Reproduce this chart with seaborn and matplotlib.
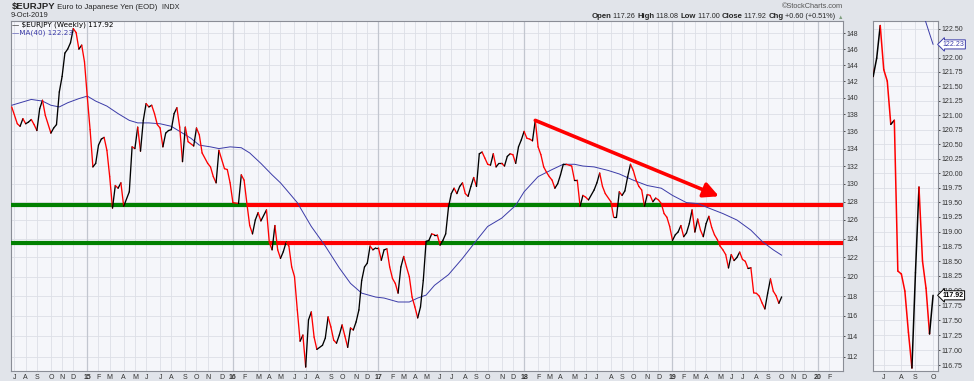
import numpy as np
import pandas as pd
import matplotlib
matplotlib.use('Agg')
import matplotlib.pyplot as plt
import matplotlib.dates as mdates
from matplotlib.collections import LineCollection
import seaborn as sns

# weekly bars, each dated by the Monday of its week
first_bar = pd.Timestamp('2014-06-30')

weeks = [0, 2, 3, 4, 5, 6, 7, 8, 9, 10, 11, 12, 14, 15, 16, 17, 18, 19, 20, 21,
         22, 23, 24, 25, 26, 27, 28, 29, 30, 31, 32, 33, 34, 35, 36, 37, 38, 39, 40, 42,
         43, 44, 45, 46, 47, 48, 49, 50, 51, 52, 53, 54, 55, 56, 57, 58, 59, 60, 61, 62,
         63, 65, 66, 67, 68, 70, 71, 72, 73, 74, 76, 77, 78, 79, 81, 82, 83, 84, 85, 86,
         87, 88, 89, 91, 92, 93, 94, 95, 96, 97, 98, 99, 100, 101, 102, 103, 104, 105, 106, 107,
         108, 109, 111, 112, 113, 114, 115, 116, 117, 118, 119, 120, 121, 122, 123, 124, 125, 126, 127, 128,
         129, 130, 131, 132, 133, 134, 135, 136, 137, 138, 139, 140, 141, 142, 143, 144, 145, 146, 147, 148,
         149, 150, 151, 152, 153, 154, 155, 156, 157, 158, 159, 160, 161, 162, 163, 164, 165, 166, 167, 168,
         169, 170, 171, 172, 173, 174, 175, 176, 177, 178, 179, 180, 181, 182, 183, 184, 185, 186, 187, 188,
         189, 190, 191, 192, 193, 194, 195, 196, 197, 198, 200, 201, 202, 203, 204, 205, 206, 208, 209, 210,
         211, 212, 214, 215, 216, 217, 218, 219, 220, 221, 222, 223, 224, 225, 226, 227, 228, 229, 230, 231,
         232, 233, 234, 235, 236, 237, 238, 239, 240, 241, 242, 243, 244, 245, 246, 247, 248, 249, 250, 251,
         252, 253, 254, 255, 256, 257, 258, 259, 260, 261, 262, 263, 264, 265, 266, 267, 268, 269, 270, 271,
         272, 273, 274, 275]
closes = [138.9, 136.9, 136.6, 137.5, 136.9, 137.1, 137.4, 136.8, 136.1, 138.7, 139.7, 137.9, 135.8, 136.4, 136.8, 140.7, 142.6, 145.5, 146.0, 146.8,
          148.6, 148.1, 146.0, 146.5, 144.4, 140.1, 136.2, 131.9, 132.3, 134.4, 135.1, 135.3, 133.8, 130.8, 127.3, 129.8, 129.5, 130.1, 127.5, 129.1,
          134.2, 134.0, 136.5, 133.7, 137.3, 139.3, 138.9, 139.1, 138.1, 136.8, 136.4, 134.2, 135.8, 136.1, 136.2, 138.1, 138.8, 136.5, 132.5, 136.5,
          134.8, 134.3, 136.4, 135.6, 133.5, 132.3, 131.9, 130.8, 130.1, 133.8, 131.7, 131.6, 130.1, 127.9, 127.8, 131.0, 130.4, 127.8, 125.4, 124.5,
          126.0, 126.8, 125.9, 127.1, 123.6, 122.8, 125.4, 122.8, 121.9, 122.6, 123.6, 123.2, 121.0, 120.0, 116.6, 113.5, 114.1, 111.0, 115.6, 116.4,
          113.9, 112.7, 113.1, 113.8, 115.9, 114.9, 113.6, 113.3, 114.1, 115.1, 114.0, 112.9, 114.8, 114.6, 115.4, 116.6, 119.6, 121.0, 121.4, 123.2,
          122.8, 123.0, 123.0, 121.7, 122.8, 122.9, 121.0, 119.8, 119.3, 118.3, 121.0, 122.1, 121.0, 120.0, 117.9, 116.9, 115.8, 116.9, 119.6, 123.7,
          123.8, 124.5, 124.4, 124.4, 123.3, 123.8, 124.5, 127.4, 128.9, 129.5, 128.9, 129.7, 130.1, 128.9, 128.6, 129.7, 130.7, 129.7, 133.4, 133.6,
          132.9, 132.2, 132.1, 133.4, 131.9, 132.3, 132.3, 132.0, 133.1, 133.4, 133.3, 132.3, 134.2, 135.0, 136.0, 135.2, 135.1, 134.9, 137.3, 134.2,
          133.3, 131.9, 131.3, 130.8, 130.4, 129.5, 130.0, 131.0, 132.2, 132.2, 132.0, 130.4, 130.4, 127.5, 128.7, 128.5, 128.2, 129.3, 130.1, 131.2,
          129.7, 128.9, 128.0, 126.3, 126.3, 129.1, 128.7, 129.2, 130.8, 132.2, 131.5, 130.4, 129.7, 129.3, 127.5, 128.8, 128.7, 128.0, 128.4, 128.2,
          127.8, 126.7, 126.3, 125.3, 123.8, 124.4, 124.7, 125.4, 124.2, 124.6, 125.6, 127.1, 124.7, 126.1, 124.9, 124.2, 125.6, 126.4, 125.2, 124.4,
          123.9, 123.2, 122.8, 122.3, 120.9, 122.3, 121.67, 121.99, 122.56, 121.79, 121.59, 120.84, 120.91, 118.33, 118.28, 117.99, 117.30, 116.70, 118.30, 119.76,
          118.50, 118.04, 117.27, 117.92]

ma_weeks = [0, 3, 7, 11, 14, 17, 20, 24, 27, 30, 34, 38, 42, 45, 49, 53, 57, 60, 64, 67,
            71, 74, 78, 82, 85, 89, 93, 96, 99, 102, 107, 112, 117, 121, 125, 130, 133, 138, 142, 145,
            148, 151, 156, 161, 166, 170, 175, 180, 183, 188, 193, 197, 201, 204, 208, 213, 217, 222, 227, 232,
            236, 241, 245, 249, 254, 259, 264, 268, 272, 275]
ma_values = [139.1, 139.4, 139.8, 139.6, 139.1, 138.9, 139.4, 139.9, 140.2, 139.6, 139.0, 138.1, 137.3, 137.0, 137.0, 136.9, 136.6, 136.0, 135.2, 134.4,
             134.2, 134.0, 134.2, 134.1, 133.5, 132.3, 131.0, 130.1, 129.0, 127.9, 125.3, 123.2, 120.9, 119.3, 118.3, 117.9, 117.8, 117.4, 117.4, 117.8,
             118.1, 119.1, 120.2, 121.9, 123.8, 125.3, 126.2, 127.6, 129.1, 130.8, 131.6, 132.2, 132.2, 132.0, 131.9, 131.5, 131.1, 130.4, 129.8, 129.5,
             128.7, 127.9, 127.8, 127.3, 126.7, 126.0, 124.9, 123.7, 122.8, 122.23]

levels = [127.6, 123.5]
trend_weeks = [187, 252.6]
trend_values = [137.3, 128.6]

main_ticks = list(range(112, 149, 2))
inset_ticks = [116.75, 117.00, 117.25, 117.50, 117.75, 118.00, 118.25, 118.50, 118.75, 119.00, 119.25,
               119.50, 119.75, 120.00, 120.25, 120.50, 120.75, 121.00, 121.25, 121.50, 121.75, 122.00, 122.50]
inset_from = 258
months = ['J', 'F', 'M', 'A', 'M', 'J', 'J', 'A', 'S', 'O', 'N', 'D']

quote = [('Open', True), (' 117.26 ', False), ('High', True), (' 118.08 ', False),
         ('Low', True), (' 117.00 ', False), ('Close', True), (' 117.92 ', False),
         ('Chg', True), (' +0.60 (+0.51%) ', False)]

UP, DOWN, GREEN, NAVY = 'black', '#ff0000', '#008000', '#3b3ba8'
PLOT_BG, OUTER_BG = '#f5f6fa', '#e1e4ea'
GRID, YEARGRID, SPINE, TXT = '#dcdfe6', '#c2c6cf', '#8a8d96', '#333333'

sns.set_style('white')
plt.rcParams['font.family'] = ['Liberation Sans', 'DejaVu Sans']


def bar_date(w):
    return first_bar + pd.Timedelta(days=7 * float(w))


dates = pd.DatetimeIndex([bar_date(w) for w in weeks])
ma_dates = pd.DatetimeIndex([bar_date(w) for w in ma_weeks])
xnum = mdates.date2num(dates)
px = np.array(closes)


def price_lines(lw):
    pts = np.column_stack([xnum, px])
    segs = np.stack([pts[:-1], pts[1:]], axis=1)
    cols = [UP if b >= a else DOWN for a, b in zip(px[:-1], px[1:])]
    return LineCollection(segs, colors=cols, linewidths=lw, capstyle='round',
                          joinstyle='round', zorder=4)


def level_lines(level, x0, x1):
    # green where price is above the level, red where below
    d = np.log(px) - np.log(level)
    cuts = [x0]
    for i in range(len(d) - 1):
        if d[i] * d[i + 1] < 0:
            t = d[i] / (d[i] - d[i + 1])
            cuts.append(xnum[i] + t * (xnum[i + 1] - xnum[i]))
    cuts.append(x1)
    segs, cols = [], []
    for a, b in zip(cuts[:-1], cuts[1:]):
        mid = np.interp((a + b) / 2, xnum, px)
        segs.append([(a, level), (b, level)])
        cols.append(GREEN if mid >= level else DOWN)
    return LineCollection(segs, colors=cols, linewidths=3.0, capstyle='butt', zorder=3)


bars = pd.DatetimeIndex([bar_date(w) for w in range(0, 300)])
firsts = [d for p, d in zip(bars[:-1], bars[1:]) if d.month != p.month]


def month_ticks(lo, hi):
    sel = [d for d in firsts if lo <= d <= hi]
    labels = [f'{d.year % 100:02d}' if d.month == 1 else months[d.month - 1] for d in sel]
    return sel, labels


W, H = 974, 381
fig = plt.figure(figsize=(9.74, 3.81), dpi=100)
fig.patch.set_facecolor(OUTER_BG)


def px_box(x0, y0, x1, y1):
    return [x0 / W, 1 - y1 / H, (x1 - x0) / W, (y1 - y0) / H]


ax = fig.add_axes(px_box(11, 21, 843, 371))
axi = fig.add_axes(px_box(873, 21, 938, 371))

# ---- main weekly panel
ax.set_facecolor(PLOT_BG)
sns.lineplot(x=ma_dates, y=ma_values, ax=ax, color=NAVY, linewidth=0.7, zorder=3.5)
ax.set_yscale('log')
xlo, xhi = bar_date(-0.25), bar_date(296.9)
x0n, x1n = mdates.date2num([xlo, xhi])
for lv in levels:
    ax.add_collection(level_lines(lv, x0n, x1n))
ax.add_collection(price_lines(0.95))
ax.annotate('', xy=(mdates.date2num(bar_date(trend_weeks[1])), trend_values[1]),
            xytext=(mdates.date2num(bar_date(trend_weeks[0])), trend_values[0]),
            arrowprops=dict(arrowstyle='-|>,head_length=0.9,head_width=0.45', color=DOWN,
                            lw=2.6, shrinkA=0, shrinkB=0), zorder=6)
ax.set_xlim(xlo, xhi)
ax.set_ylim(110.62, 149.58)
ax.set_yticks(main_ticks, [str(t) for t in main_ticks])
ax.minorticks_off()
sel, labels = month_ticks(xlo, bar_date(295))
ax.set_xticks(mdates.date2num(sel), labels)
for d in sel:
    if d.month == 1:
        ax.axvline(d, color=YEARGRID, lw=0.9, zorder=0.6)
for t in ax.get_xticklabels():
    if t.get_text().isdigit():
        t.set_fontweight('bold')

# ---- last weeks close-up
axi.set_facecolor(PLOT_BG)
sns.lineplot(x=ma_dates, y=ma_values, ax=axi, color=NAVY, linewidth=0.7, zorder=3.5)
axi.add_collection(price_lines(1.1))
axi.set_yscale('log')
ilo, ihi = bar_date(inset_from - 0.05), bar_date(276.4)
axi.set_xlim(ilo, ihi)
axi.set_ylim(116.65, 122.64)
axi.set_yticks(inset_ticks, [f'{t:.2f}' for t in inset_ticks])
axi.minorticks_off()
sel, labels = month_ticks(ilo, ihi)
axi.set_xticks(mdates.date2num(sel), labels)

for a in (ax, axi):
    a.set_xlabel('')
    a.set_ylabel('')
    a.grid(True, color=GRID, lw=0.6)
    a.yaxis.tick_right()
    a.tick_params(axis='x', labelsize=5.0, length=0, pad=2.2, colors=TXT)
    a.tick_params(axis='y', labelsize=5.0, length=1.5, width=0.6, pad=1.2, colors=TXT)
    for s in a.spines.values():
        s.set_color(SPINE)
        s.set_linewidth(0.8)

ytr = axi.get_yaxis_transform()
axi.annotate(f'{ma_values[-1]:.2f}', xy=(1.0, ma_values[-1]), xycoords=ytr,
             xytext=(3.2, 0), textcoords='offset points', ha='left', va='center',
             fontsize=5.0, color=NAVY, zorder=10, annotation_clip=False,
             bbox=dict(boxstyle='larrow,pad=0.15', fc='white', ec=NAVY, lw=0.7))
axi.annotate(f'{closes[-1]:.2f}', xy=(1.0, closes[-1]), xycoords=ytr,
             xytext=(3.2, 0), textcoords='offset points', ha='left', va='center',
             fontsize=5.0, color='black', fontweight='bold', zorder=10, annotation_clip=False,
             bbox=dict(boxstyle='larrow,pad=0.15', fc='white', ec='black', lw=0.7))

# ---- legend inside the main panel
fig.text(12.5 / W, 1 - 25 / H, f'\u2014 \\$EURJPY (Weekly) {closes[-1]:.2f}', family='DejaVu Sans',
         fontsize=5.2, color='black', va='center', ha='left')
fig.text(12.5 / W, 1 - 32.5 / H, f'\u2014MA(40) {ma_values[-1]:.2f}', family='DejaVu Sans',
         fontsize=5.2, color=NAVY, va='center', ha='left')

# ---- header
t1 = fig.text(11.5 / W, 1 - 6.5 / H, '\\$EURJPY', fontsize=6.8, fontweight='bold', va='center', ha='left')
t2 = ax.annotate(' Euro to Japanese Yen (EOD)', xy=(1, 0), xycoords=t1, va='bottom', ha='left',
                 fontsize=5.6, annotation_clip=False)
ax.annotate('  INDX', xy=(1, 0), xycoords=t2, va='bottom', ha='left', fontsize=5.2, annotation_clip=False)
fig.text(11 / W, 1 - 15.7 / H, '9-Oct-2019', fontsize=5.4, va='center', ha='left')
fig.text(843 / W, 1 - 6.7 / H, '\u00a9StockCharts.com', fontsize=5.3, color='#555555', va='center', ha='right')

prev = fig.text(843 / W, 1 - 19.8 / H, '\u25b2', fontsize=4.0, color='#7f9f7f', va='bottom', ha='right')
for txt, bold in reversed(quote):
    prev = ax.annotate(txt, xy=(0, 0), xycoords=prev, va='bottom', ha='right',
                       fontsize=5.6 if bold else 5.2, fontweight='bold' if bold else 'normal',
                       annotation_clip=False)

fig.savefig('out.png', dpi=100, facecolor=fig.get_facecolor())
